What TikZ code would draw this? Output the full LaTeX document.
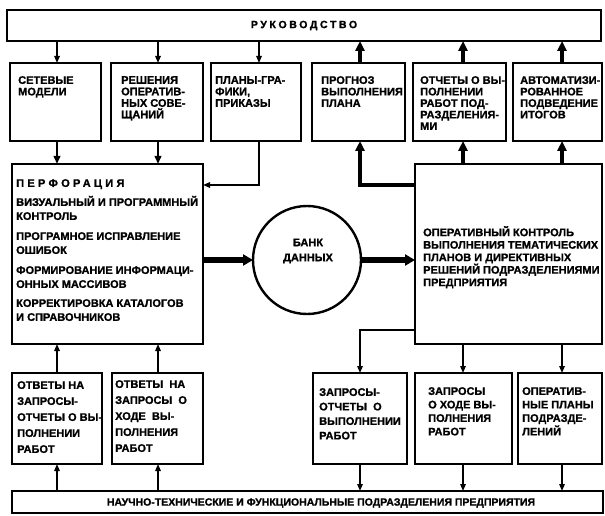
\documentclass[tikz,border=0pt]{standalone}
\usepackage{fontspec}
\setmainfont{Liberation Sans}[BoldFeatures={FakeBold=1.2}]
\usetikzlibrary{arrows.meta}
\begin{document}
\begin{tikzpicture}[x=1pt,y=-1pt,
  box/.style={draw, line width=2.4pt, inner sep=0pt, outer sep=0pt, anchor=north west},
  txt/.style={anchor=north west, inner sep=0pt, align=left, font=\bfseries\fontsize{11}{11.5}\selectfont},
  thinarr/.style={line width=1.4pt, line join=miter, -{Triangle[length=7pt,width=5.5pt]}},
  midarr/.style={line width=2.2pt, -{Triangle[length=8pt,width=6.5pt]}},
  thickarr/.style={line width=4pt, line join=miter, -{Triangle[length=10pt,width=9pt]}},
  hugearr/.style={line width=6pt, -{Triangle[length=10pt,width=11pt]}}]
\useasboundingbox (0,0) rectangle (605,516);
% boxes
\node[box, minimum width=594pt, minimum height=31pt] (T) at (7,10) {};
\node[box, minimum width=91pt, minimum height=78pt] (b1) at (10,63) {};
\node[box, minimum width=92pt, minimum height=78pt] (b2) at (111,63) {};
\node[box, minimum width=90pt, minimum height=78pt] (b3) at (211,63) {};
\node[box, minimum width=93pt, minimum height=78pt] (b4) at (312,63) {};
\node[box, minimum width=93pt, minimum height=78pt] (b5) at (413,63) {};
\node[box, minimum width=89pt, minimum height=78pt] (b6) at (513,63) {};
\node[box, minimum width=191pt, minimum height=180pt] (P) at (12,164) {};
\node[box, minimum width=187pt, minimum height=180pt] (R) at (415,164) {};
\node[draw, circle, line width=2.4pt, minimum size=108pt, inner sep=0pt, outer sep=0pt] (C) at (307,260) {};
\node[box, minimum width=90pt, minimum height=91pt] (a) at (12,373) {};
\node[box, minimum width=91pt, minimum height=91pt] (b) at (112,373) {};
\node[box, minimum width=94pt, minimum height=91pt] (c) at (313,373) {};
\node[box, minimum width=97pt, minimum height=91pt] (d) at (415,373) {};
\node[box, minimum width=84pt, minimum height=91pt] (e) at (518,373) {};
\node[box, minimum width=591pt, minimum height=22pt] (B) at (12,491) {};
% texts
\node[font=\bfseries\fontsize{10.5}{12}\selectfont\addfontfeature{LetterSpace=25}] (tT) at (T.center) {РУКОВОДСТВО};
\node[txt] (t1) at ([shift={(8,13)}]b1.north west) {СЕТЕВЫЕ\\МОДЕЛИ};
\node[txt] (t2) at ([shift={(10,13)}]b2.north west) {РЕШЕНИЯ\\ОПЕРАТИВ-\\НЫХ СОВЕ-\\ЩАНИЙ};
\node[txt] (t3) at ([shift={(4,13)}]b3.north west) {ПЛАНЫ-ГРА-\\ФИКИ,\\ПРИКАЗЫ};
\node[txt] (t4) at ([shift={(9,13)}]b4.north west) {ПРОГНОЗ\\ВЫПОЛНЕНИЯ\\ПЛАНА};
\node[txt] (t5) at ([shift={(7,13)}]b5.north west) {ОТЧЕТЫ О ВЫ-\\ПОЛНЕНИИ\\РАБОТ ПОД-\\РАЗДЕЛЕНИЯ-\\МИ};
\node[txt] (t6) at ([shift={(7,13)}]b6.north west) {АВТОМАТИЗИ-\\РОВАННОЕ\\ПОДВЕДЕНИЕ\\ИТОГОВ};
\node[txt, font=\bfseries\fontsize{11}{14}\selectfont] (tP) at ([shift={(4,15)}]P.north west)
  {{\addfontfeature{LetterSpace=30}ПЕРФОРАЦИЯ}\\[5pt]
   ВИЗУАЛЬНЫЙ И ПРОГРАММНЫЙ\\КОНТРОЛЬ\\[6pt]
   ПРОГРАМНОЕ ИСПРАВЛЕНИЕ\\ОШИБОК\\[6pt]
   ФОРМИРОВАНИЕ ИНФОРМАЦИ-\\ОННЫХ МАССИВОВ\\[5pt]
   КОРРЕКТИРОВКА КАТАЛОГОВ\\И СПРАВОЧНИКОВ};
\node[txt, font=\bfseries\fontsize{11}{12.5}\selectfont] (tR) at ([shift={(8,62)}]R.north west)
  {ОПЕРАТИВНЫЙ КОНТРОЛЬ\\ВЫПОЛНЕНИЯ ТЕМАТИЧЕСКИХ\\ПЛАНОВ И ДИРЕКТИВНЫХ\\РЕШЕНИЙ ПОДРАЗДЕЛЕНИЯМИ\\ПРЕДПРИЯТИЯ};
\node[align=center, inner sep=0pt, font=\bfseries\fontsize{11}{15}\selectfont] (tC) at ([shift={(1,-9)}]C.center) {БАНК\\ДАННЫХ};
\node[txt, font=\bfseries\fontsize{11}{16}\selectfont] (ta) at ([shift={(5,8)}]a.north west) {ОТВЕТЫ НА\\ЗАПРОСЫ-\\ОТЧЕТЫ О ВЫ-\\ПОЛНЕНИИ\\РАБОТ};
\node[txt, font=\bfseries\fontsize{11}{16}\selectfont] (tb) at ([shift={(3,7)}]b.north west) {ОТВЕТЫ \ НА\\ЗАПРОСЫ \ О\\ХОДЕ \ ВЫ-\\ПОЛНЕНИЯ\\РАБОТ};
\node[txt, font=\bfseries\fontsize{11}{14.5}\selectfont] (tc) at ([shift={(6,15)}]c.north west) {ЗАПРОСЫ-\\ОТЧЕТЫ \ О\\ВЫПОЛНЕНИИ\\РАБОТ};
\node[txt, font=\bfseries\fontsize{11}{13.5}\selectfont] (td) at ([shift={(13,14)}]d.north west) {ЗАПРОСЫ\\О ХОДЕ ВЫ-\\ПОЛНЕНИЯ\\РАБОТ};
\node[txt, font=\bfseries\fontsize{11}{13.5}\selectfont] (te) at ([shift={(4,14)}]e.north west) {ОПЕРАТИВ-\\НЫЕ ПЛАНЫ\\ПОДРАЗДЕ-\\ЛЕНИЙ};
\node[inner sep=0pt, font=\bfseries\fontsize{10.5}{12}\selectfont] (tB) at (321,503) {НАУЧНО-ТЕХНИЧЕСКИЕ И ФУНКЦИОНАЛЬНЫЕ ПОДРАЗДЕЛЕНИЯ ПРЕДПРИЯТИЯ};
% column coordinates
\coordinate (x1) at (57,0);
\coordinate (x2) at (158,0);
\coordinate (x3) at (259,0);
\coordinate (x4) at (360,0);
\coordinate (x5) at (463,0);
\coordinate (x6) at (562,0);
\coordinate (k1) at (0,185);
\coordinate (k2) at (0,330);
% connectors
\draw[thinarr] (T.south -| x1) -- (b1.north -| x1);
\draw[thinarr] (T.south -| x2) -- (b2.north -| x2);
\draw[thinarr] (T.south -| x3) -- (b3.north -| x3);
\draw[thickarr] (b4.north -| x4) -- (T.south -| x4);
\draw[thickarr] (b5.north -| x5) -- (T.south -| x5);
\draw[thickarr] (b6.north -| x6) -- (T.south -| x6);
\draw[midarr] (b1.south -| x1) -- (P.north -| x1);
\draw[midarr] (b2.south -| x2) -- (P.north -| x2);
\draw[thinarr] (b3.south -| x3) -- (x3 |- k1) -- (P.east |- k1);
\draw[hugearr] (P.east |- C.center) -- (C.west);
\draw[hugearr] (C.east) -- (R.west |- C.center);
\draw[thickarr] (R.west |- k1) -- (x4 |- k1) -- (b4.south -| x4);
\draw[thickarr] (R.north -| x5) -- (b5.south -| x5);
\draw[thickarr] (R.north -| x6) -- (b6.south -| x6);
\draw[thinarr] (R.west |- k2) -- (x4 |- k2) -- (c.north -| x4);
\draw[thinarr] (R.south -| x5) -- (d.north -| x5);
\draw[thinarr] (R.south -| x6) -- (e.north -| x6);
\draw[thinarr] (c.south -| x4) -- (B.north -| x4);
\draw[thinarr] (d.south -| x5) -- (B.north -| x5);
\draw[thinarr] (e.south -| x6) -- (B.north -| x6);
\draw[thinarr] (B.north -| x1) -- (a.south -| x1);
\draw[thinarr] (B.north -| x2) -- (b.south -| x2);
\draw[thinarr] (a.north -| x1) -- (P.south -| x1);
\draw[thinarr] (b.north -| x2) -- (P.south -| x2);
\end{tikzpicture}
\end{document}
